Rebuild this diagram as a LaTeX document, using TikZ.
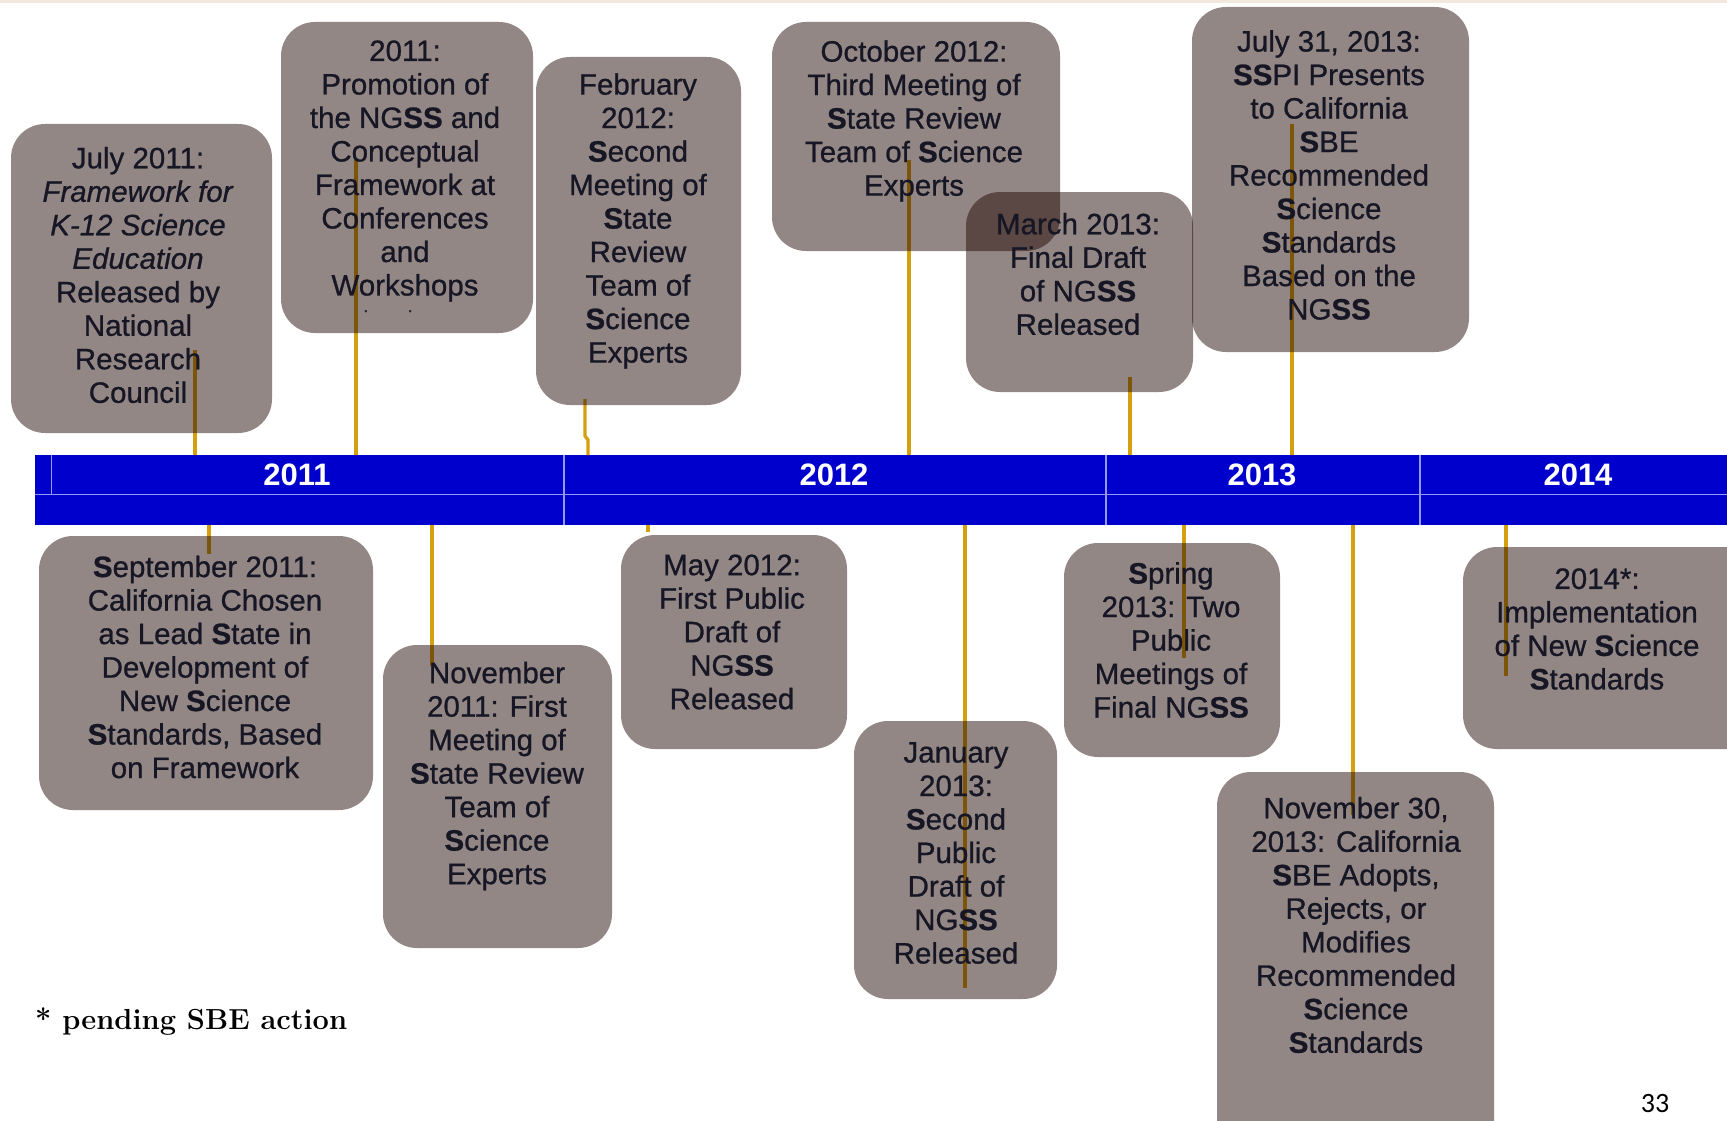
\documentclass[tikz,border=0pt]{standalone}
\usepackage{fontspec}
\newfontfamily\arialf[FakeBold=0.8]{Liberation Sans}
\newfontfamily\arialyear{Liberation Sans}
\newfontfamily\carlf{Carlito}
\newcommand\bS{{\bfseries S}}
\definecolor{barblue}{RGB}{0,0,204}
\definecolor{barline}{RGB}{150,150,245}
\definecolor{gold}{RGB}{212,160,16}
\definecolor{boxfill}{RGB}{31,5,0}
\definecolor{txt}{RGB}{22,22,36}
\definecolor{beige}{RGB}{242,233,220}
\begin{document}
\begin{tikzpicture}[x=1pt,y=-1pt,
  evbox/.style={rounded corners=34pt, fill=boxfill, fill opacity=0.48, draw=none, inner sep=0pt},
  evtext/.style={align=center, font=\arialf\fontsize{29.5}{33.5}\selectfont, text=txt, inner sep=0pt},
  yeartext/.style={font=\arialyear\bfseries\fontsize{31}{36}\selectfont, text=white, inner sep=0pt},
  conn/.style={draw=gold, line width=3.3pt},
  divline/.style={draw=barline, line width=2pt}]
\clip (0,0) rectangle (1727,1121);
\fill[white] (0,0) rectangle (1727,1121);
\fill[beige] (0,0) rectangle (1727,3);
% timeline bar
\node[fill=barblue, minimum width=1692pt, minimum height=70pt, inner sep=0pt, anchor=north west] (bar) at (35,455) {};
\draw[barline, line width=1pt] (35,494) -- (1727,494);
\draw[barline, line width=1pt] (51,455) -- (51,494);
\draw[divline] (564,455) -- (564,525);
\draw[divline] (1106,455) -- (1106,525);
\draw[divline] (1420,455) -- (1420,525);
\node[yeartext] (y2011) at (297,475) {2011};
\node[yeartext] (y2012) at (834,475) {2012};
\node[yeartext] (y2013) at (1262,475) {2013};
\node[yeartext] (y2014) at (1578,475) {2014};
% connector ends
\coordinate (e1) at (195,350);
\coordinate (e2) at (356,160);
\coordinate (e3) at (585,399);
\coordinate (e3j) at (588,440);
\coordinate (e4) at (909,160);
\coordinate (e5) at (1130,377);
\coordinate (e6) at (1292,124);
\coordinate (e7) at (209,554);
\coordinate (e8) at (432,666);
\coordinate (e9) at (648,532);
\coordinate (e10) at (965,988);
\coordinate (e11) at (1184,658);
\coordinate (e12) at (1353,815);
\coordinate (e13) at (1506,676);
\draw[conn] (bar.north -| e1) -- (e1);
\draw[conn] (bar.north -| e2) -- (e2);
\draw[conn] (bar.north -| e3j) -- (e3j) -- (585,436) -- (e3);
\draw[conn] (bar.north -| e4) -- (e4);
\draw[conn] (bar.north -| e5) -- (e5);
\draw[conn] (bar.north -| e6) -- (e6);
\draw[conn] (bar.south -| e7) -- (e7);
\draw[conn] (bar.south -| e8) -- (e8);
\draw[conn] (bar.south -| e9) -- (e9);
\draw[conn] (bar.south -| e10) -- (e10);
\draw[conn] (bar.south -| e11) -- (e11);
\draw[conn] (bar.south -| e12) -- (e12);
\draw[conn] (bar.south -| e13) -- (e13);
% boxes
\node[evbox, minimum width=261pt, minimum height=309pt] (b1) at (141.5,278.5) {};
\node[evbox, minimum width=252pt, minimum height=311pt] (b2) at (407,177.5) {};
\node[evbox, minimum width=205pt, minimum height=348pt] (b3) at (638.5,231) {};
\node[evbox, minimum width=288pt, minimum height=229pt] (b4) at (916,136.5) {};
\node[evbox, minimum width=227pt, minimum height=200pt] (b5) at (1079.5,292) {};
\node[evbox, minimum width=277pt, minimum height=345pt] (b6) at (1330.5,179.5) {};
\node[evbox, minimum width=334pt, minimum height=274pt] (b7) at (206,673) {};
\node[evbox, minimum width=229pt, minimum height=303pt] (b8) at (497.5,796.5) {};
\node[evbox, minimum width=226pt, minimum height=214pt] (b9) at (734,642) {};
\node[evbox, minimum width=203pt, minimum height=278pt] (b10) at (955.5,860) {};
\node[evbox, minimum width=216pt, minimum height=214pt] (b11) at (1172,650) {};
\node[evbox, minimum width=277pt, minimum height=388pt] (b12) at (1355.5,966) {};
\node[evbox, minimum width=304pt, minimum height=202pt] (b13) at (1615,648) {};
% texts
\node[evtext] (t1) at (138,275) {July 2011:\\ \textit{Framework for}\\ \textit{K-12 Science}\\ \textit{Education}\\ Released by\\ National\\ Research\\ Council};
\node[evtext] (t2) at (405,171) {2011:\\ Promotion of\\ the NG\bS\bS{} and\\ Conceptual\\ Framework at\\ Conferences\\ and\\ Workshops};
\node[evtext, font=\arialf\fontsize{16}{18}\selectfont, anchor=base] (t2d) at (388,312) {.\hspace{40pt}.};
\node[evtext] (t3) at (638,221) {February\\ 2012:\\ \bS econd\\ Meeting of\\ \bS tate\\ Review\\ Team of\\ \bS cience\\ Experts};
\node[evtext] (t4) at (914,121) {October 2012:\\ Third Meeting of\\ \bS tate Review\\ Team of \bS cience\\ Experts};
\node[evtext] (t5) at (1078,274) {March 2013:\\ Final Draft\\ of NG\bS\bS\\ Released};
\node[evtext] (t6) at (1329,175) {July 31, 2013:\\ \bS\bS PI Presents\\ to California\\ \bS BE\\ Recommended\\ \bS cience\\ \bS tandards\\ Based on the\\ NG\bS\bS};
\node[evtext] (t7) at (205,667) {\bS eptember 2011:\\ California Chosen\\ as Lead \bS tate in\\ Development of\\ New \bS cience\\ \bS tandards, Based\\ on Framework};
\node[evtext] (t8) at (497,776) {November\\ 2011: First\\ Meeting of\\ \bS tate Review\\ Team of\\ \bS cience\\ Experts};
\node[evtext] (t9) at (732,632) {May 2012:\\ First Public\\ Draft of\\ NG\bS\bS\\ Released};
\node[evtext] (t10) at (956,853) {January\\ 2013:\\ \bS econd\\ Public\\ Draft of\\ NG\bS\bS\\ Released};
\node[evtext] (t11) at (1171,640) {\bS pring\\ 2013: Two\\ Public\\ Meetings of\\ Final NG\bS\bS};
\node[evtext] (t12) at (1356,925) {November 30,\\ 2013: California\\ \bS BE Adopts,\\ Rejects, or\\ Modifies\\ Recommended\\ \bS cience\\ \bS tandards};
\node[evtext] (t13) at (1597,629) {2014*:\\ Implementation\\ of New \bS cience\\ \bS tandards};
% footnote and page number
\node[anchor=west, inner sep=0pt, font=\bfseries\fontsize{29}{34}\selectfont] (note) at (35,1022) {* pending SBE action};
\node[inner sep=0pt, font=\carlf\fontsize{28}{30}\selectfont] (pg) at (1655,1103) {33};
\end{tikzpicture}
\end{document}
